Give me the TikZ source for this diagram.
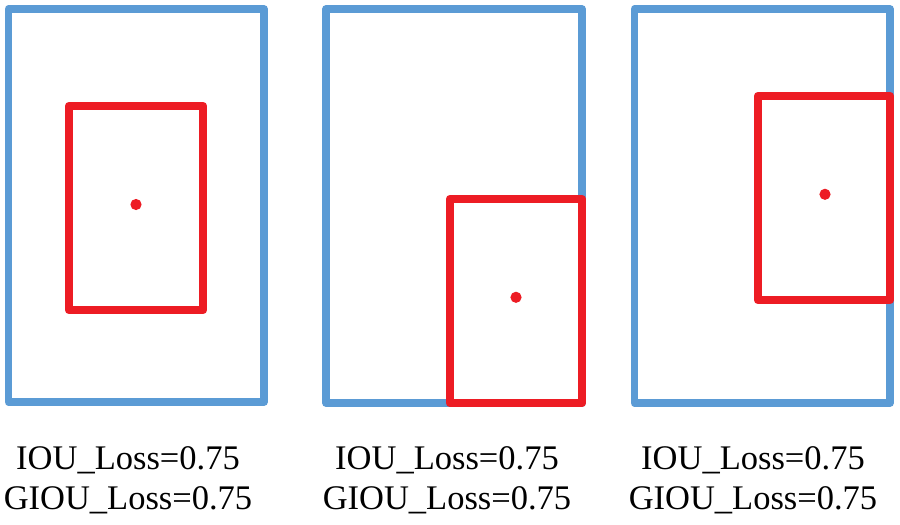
\documentclass[tikz,border=0pt]{standalone}
\usepackage{fontspec}
\setmainfont{Liberation Serif}
\definecolor{gtblue}{RGB}{91,155,213}
\definecolor{prred}{RGB}{237,28,36}
\begin{document}
\begin{tikzpicture}[x=1pt,y=-1pt,
  gtbox/.style={draw=gtblue,line width=7.5pt,line join=round},
  prbox/.style={draw=prred,line width=8.5pt,line join=round},
  ctr/.style={fill=prred,draw=none},
  lbl/.style={anchor=base,inner sep=0pt,font=\fontsize{34.5}{40}\selectfont}]
\useasboundingbox[fill=white] (0,0) rectangle (900,525);
% panel 1
\draw[gtbox] (8.5,9) rectangle (264,402);
\draw[prbox] (69,106) rectangle (203,310);
\fill[ctr] (136,204.5) circle (5.6);
% panel 2
\draw[gtbox] (326,9) rectangle (582,403);
\draw[prbox] (450,199) rectangle (582,403);
\fill[ctr] (516,297.3) circle (5.6);
% panel 3
\draw[gtbox] (634.5,9) rectangle (890,403);
\draw[prbox] (758,96) rectangle (890,300);
\fill[ctr] (825,194.3) circle (5.6);
% labels
\node[lbl] (t1a) at (128,469) {IOU\_Loss=0.75};
\node[lbl] (t1b) at (128,509) {GIOU\_Loss=0.75};
\node[lbl] (t2a) at (447,469) {IOU\_Loss=0.75};
\node[lbl] (t2b) at (447,509) {GIOU\_Loss=0.75};
\node[lbl] (t3a) at (753,469) {IOU\_Loss=0.75};
\node[lbl] (t3b) at (753,509) {GIOU\_Loss=0.75};
\end{tikzpicture}
\end{document}
